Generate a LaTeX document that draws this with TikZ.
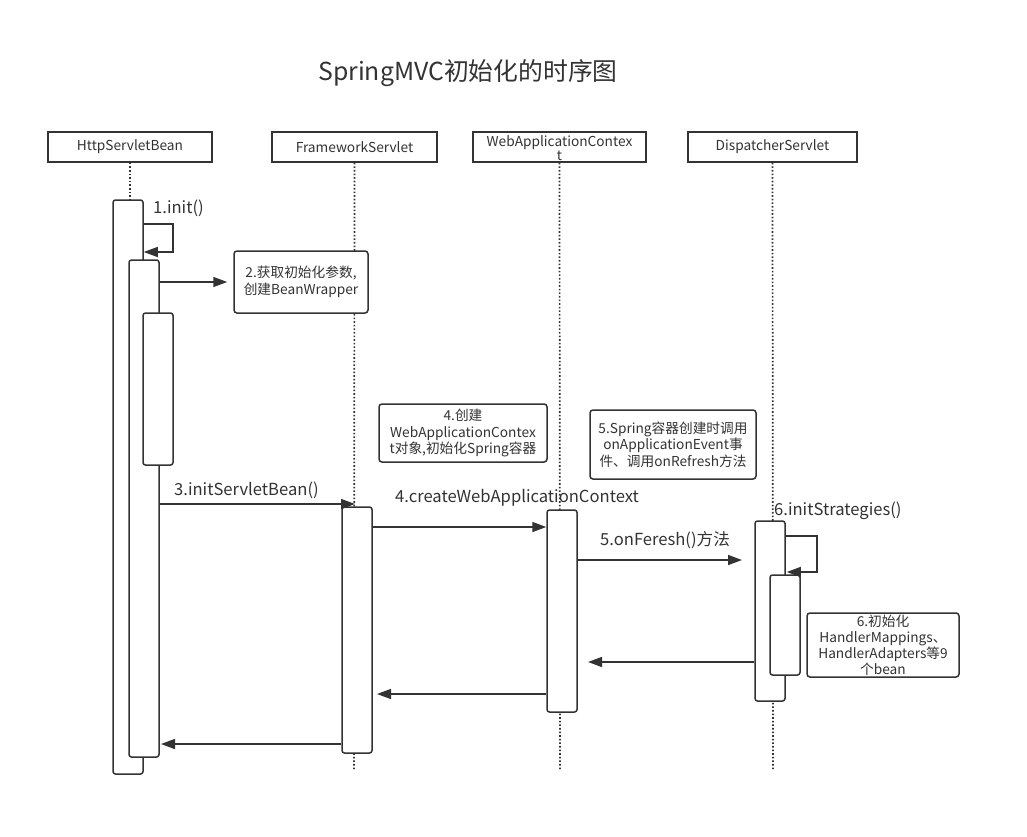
\documentclass[tikz,border=0pt]{standalone}
\usepackage{fontspec}
\setmainfont{Noto Sans CJK SC}
\usetikzlibrary{arrows.meta}
\definecolor{ln}{HTML}{333333}
\begin{document}
\begin{tikzpicture}[x=1pt,y=-1pt,
  head/.style={draw=ln, line width=1.5pt, minimum height=30pt, inner sep=0pt, align=center,
    font=\fontsize{13.7}{15}\selectfont, text=ln},
  bar/.style={draw=ln, fill=white, line width=1.5pt, rounded corners=2.5pt, minimum width=30pt, inner sep=0pt},
  note/.style={draw=ln, fill=white, line width=1.5pt, rounded corners=3pt, inner sep=0pt, align=center,
    font=\fontsize{13.7}{16.5}\selectfont, text=ln},
  life/.style={draw=ln, line width=1.7pt, dash pattern=on 1.6pt off 2pt},
  msg/.style={draw=ln, line width=1.5pt, -{Triangle[length=14pt,width=10pt]}},
  lbl/.style={font=\fontsize{16.6}{18}\selectfont, text=ln, inner sep=0pt, anchor=west}]
\useasboundingbox[fill=white] (0,0) rectangle (1027,837);

\node[font=\fontsize{24.8}{28}\selectfont, text=ln] (title) at (468,73) {SpringMVC初始化的时序图};

% headers
\node[head, minimum width=164pt] (h1) at (130,147) {HttpServletBean};
\node[head, minimum width=165pt] (h2) at (354.5,147) {FrameworkServlet};
\node[head, minimum width=173pt] (h3) at (559.5,147) {};
\node[text=ln, font=\fontsize{13.7}{14}\selectfont, align=center, inner sep=0pt] (h3t) at (559.5,148) {WebApplicationContex\\t};
\node[head, minimum width=169pt] (h4) at (772.5,147) {DispatcherServlet};

% lifelines
\coordinate (e1) at (130,770);
\coordinate (e2) at (354,770);
\coordinate (e3) at (560,770);
\coordinate (e4) at (773,770);
\draw[life] (h1.south) -- (e1);
\draw[life] (h2.south) -- (e2);
\draw[life] (h3.south) -- (e3);
\draw[life] (h4.south) -- (e4);

% activation bars
\node[bar, minimum height=574pt] (b1) at (128,487) {};
\node[bar, minimum height=497pt] (b2) at (144,508.5) {};
\node[bar, minimum height=152pt] (b3) at (158,389) {};
\node[bar, minimum height=246pt] (fb) at (357,630) {};
\node[bar, minimum height=202pt] (wb) at (562,611) {};
\node[bar, minimum height=180pt] (db) at (770,611) {};
\node[bar, minimum height=100pt] (db2) at (785,625) {};

% notes
\node[note, minimum width=134pt, minimum height=62pt] (n2) at (301,282) {2.获取初始化参数,\\创建BeanWrapper};
\node[note, minimum width=168pt, minimum height=58pt] (n4) at (463,433) {4.创建\\WebApplicationContex\\t对象,初始化Spring容器};
\node[note, minimum width=166pt, minimum height=69pt] (n5) at (673,444.5) {5.Spring容器创建时调用\\onApplicationEvent事\\件、调用onRefresh方法};
\node[note, minimum width=152pt, minimum height=64pt, font=\fontsize{13.7}{16}\selectfont] (n6) at (883,645) {6.初始化\\HandlerMappings、\\HandlerAdapters等9\\个bean};

% 1. self call
\coordinate (s1a) at (173,224);
\coordinate (s1b) at (173,252);
\draw[msg] (b1.east |- s1a) -- (s1a) -- (s1b) -- (b1.east |- s1b);
\node[lbl] (l1) at (153,208) {1.init()};

% 2.
\draw[msg, shorten >=6pt] (b2.east |- n2.west) -- (n2.west);

% 3.
\coordinate (m3) at (355,504);
\draw[msg] (b2.east |- m3) -- (m3);
\node[lbl] (l3) at (174,490) {3.initServletBean()};

% 4.
\coordinate (m4) at (547,527);
\draw[msg] (fb.east |- m4) -- (wb.west |- m4);
\node[lbl] (l4) at (395,498) {4.createWebApplicationContext};

% 5.
\coordinate (m5) at (742,560);
\draw[msg] (wb.east |- m5) -- (m5);
\node[lbl] (l5) at (600,540) {5.onFeresh()方法};

% 6. self call
\coordinate (s6a) at (817,536);
\coordinate (s6b) at (817,572);
\draw[msg] (db.east |- s6a) -- (s6a) -- (s6b) -- ([xshift=1pt]db.east |- s6b);
\node[lbl] (l6) at (774,511) {6.initStrategies()};

% returns
\coordinate (r1) at (588,662);
\draw[msg] (db.west |- r1) -- (r1);
\coordinate (r2) at (377,694);
\draw[msg] (wb.west |- r2) -- (r2);
\coordinate (r3) at (161,744);
\draw[msg] (fb.west |- r3) -- (r3);
\end{tikzpicture}
\end{document}
